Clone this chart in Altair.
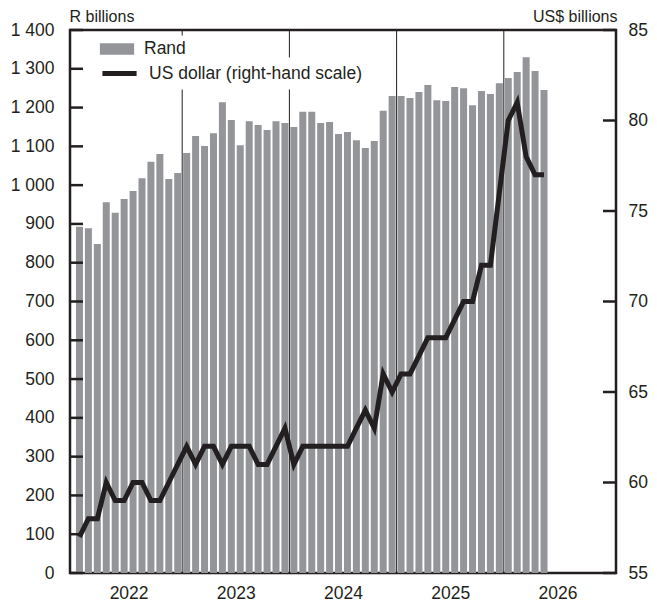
import altair as alt
import pandas as pd

# ---- data -------------------------------------------------------------
months = pd.date_range("2022-01-01", periods=53, freq="MS").strftime("%Y-%m").tolist()

rand = [
    893, 889, 848, 956, 929, 964, 985, 1018, 1060, 1080, 1016, 1031,      # 2022
    1083, 1127, 1101, 1134, 1214, 1168, 1103, 1165, 1155, 1142, 1165, 1160,  # 2023
    1150, 1189, 1189, 1160, 1163, 1132, 1137, 1116, 1096, 1114, 1192, 1230,  # 2024
    1230, 1225, 1240, 1258, 1219, 1217, 1253, 1250, 1206, 1243, 1235, 1263,  # 2025
    1276, 1292, 1330, 1294, 1245,                                          # 2026
]
usd = [
    57, 58, 58, 60, 59, 59, 60, 60, 59, 59, 60, 61,
    62, 61, 62, 62, 61, 62, 62, 62, 61, 61, 62, 63,
    61, 62, 62, 62, 62, 62, 62, 63, 64, 63, 66, 65,
    66, 66, 67, 68, 68, 68, 69, 70, 70, 72, 72, 76,
    80, 81, 78, 77, 77,
]
year_labels = [2022, 2023, 2024, 2025, 2026]
year_breaks = [2023, 2024, 2025, 2026]
left_ticks = list(range(0, 1500, 100))
right_ticks = [55, 60, 65, 70, 75, 80, 85]
series_names = ["Rand", "US dollar (right-hand scale)"]

INK = "#231f20"
GREY = "#939598"
FONT = "Liberation Sans"
FS = 17.5
TFS = 16

df = pd.DataFrame({"month": months, "rand": rand, "usd": usd})
df["t"] = df["month"].map(lambda s: int(s[:4]) + (int(s[5:]) - 0.5) / 12)
df["rand_series"] = series_names[0]
df["usd_series"] = series_names[1]

W, H = 546, 543

xscale = alt.Scale(domain=[2022, 2027], nice=False, zero=False)
xaxis = alt.Axis(
    values=[y + 0.5 for y in year_labels], labelExpr="floor(datum.value)",
    title=None, domain=False, ticks=False, grid=False,
    labelPadding=11, labelFontSize=FS, labelColor=INK, labelFont=FONT,
)
lscale = alt.Scale(domain=[0, 1400], nice=False, zero=True)
rscale = alt.Scale(domain=[55, 85], nice=False, zero=False)

laxis = alt.Axis(
    orient="left", values=left_ticks,
    labelExpr="replace(format(datum.value, ','), ',', ' ')",
    title="R billions", titleAngle=0, titleAlign="left", titleBaseline="alphabetic",
    titleX=-1, titleY=-9, titleFontSize=TFS, titleFontWeight="normal",
    titleColor=INK, titleFont=FONT,
    labelFontSize=FS, labelColor=INK, labelFont=FONT, labelPadding=16,
    ticks=False, domain=False, grid=False,
)
raxis = alt.Axis(
    orient="right", values=right_ticks,
    title="US$ billions", titleAngle=0, titleAlign="right", titleBaseline="alphabetic",
    titleX=1, titleY=-9, titleFontSize=TFS, titleFontWeight="normal",
    titleColor=INK, titleFont=FONT,
    labelFontSize=FS, labelColor=INK, labelFont=FONT, labelPadding=12,
    ticks=False, domain=False, grid=False,
)

common_legend = dict(
    title=None, orient="none", legendX=33,
    fillColor="white", padding=5, strokeColor="transparent",
    labelFontSize=FS, labelColor=INK, labelFont=FONT, labelLimit=600,
    labelOffset=18, symbolSize=324, symbolOpacity=1,
)
rand_legend = alt.Legend(
    legendY=5, symbolType="M-1.9,-0.64H1.9V0.64H-1.9Z",
    symbolFillColor=GREY, symbolStrokeWidth=0, **common_legend,
)
usd_legend = alt.Legend(
    legendY=27, symbolType="M-1.9,0H1.9",
    symbolStrokeColor=INK, symbolStrokeWidth=5, **common_legend,
)

base = alt.Chart(df)

rules = alt.Chart(pd.DataFrame({"t": year_breaks})).mark_rule(
    color=INK, strokeWidth=1
).encode(x=alt.X("t:Q", scale=xscale, axis=xaxis))

bars = base.mark_bar(width=7).encode(
    x=alt.X("t:Q", scale=xscale, axis=xaxis),
    y=alt.Y("rand:Q", scale=lscale, axis=laxis),
    color=alt.Color("rand_series:N", scale=alt.Scale(domain=[series_names[0]], range=[GREY]),
                    legend=rand_legend),
)

lticks = alt.Chart(pd.DataFrame({"rand": left_ticks})).mark_rule(
    color=INK, strokeWidth=2.5
).encode(y=alt.Y("rand:Q", scale=lscale, axis=laxis), x=alt.value(0), x2=alt.value(13))

line = base.mark_line(strokeWidth=5, strokeJoin="miter").encode(
    x=alt.X("t:Q", scale=xscale, axis=xaxis),
    y=alt.Y("usd:Q", scale=rscale, axis=raxis),
    color=alt.Color("usd_series:N", scale=alt.Scale(domain=[series_names[1]], range=[INK]),
                    legend=usd_legend),
)

rticks = alt.Chart(pd.DataFrame({"usd": right_ticks})).mark_rule(
    color=INK, strokeWidth=2.5
).encode(y=alt.Y("usd:Q", scale=rscale, axis=raxis), x=alt.value(W - 13), x2=alt.value(W))

left = alt.layer(rules, bars, lticks)
right = alt.layer(line, rticks)

chart = alt.layer(left, right).resolve_scale(y="independent", color="independent").properties(
    width=W, height=H,
    padding={"left": 62, "top": 22, "right": 33, "bottom": 30},
    autosize=alt.AutoSizeParams(type="none"),
).configure(
    font=FONT, background="white",
    view=alt.ViewConfig(stroke=INK, strokeWidth=2.5),
)

chart.save("out.html", embed_options={"renderer": "svg", "actions": False})
